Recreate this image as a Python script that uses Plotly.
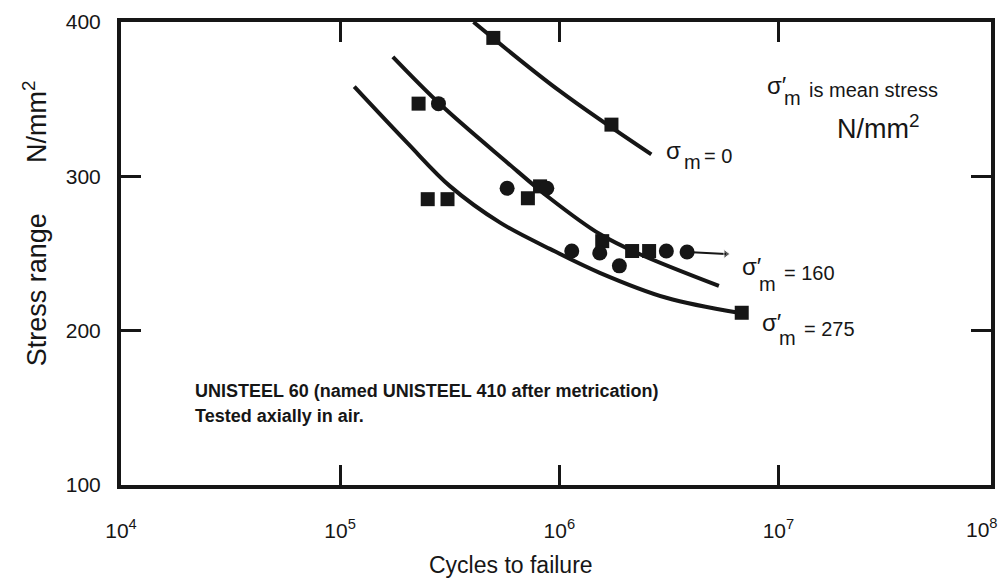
import plotly.graph_objects as go

# S-N fatigue data, UNISTEEL 60, axial tests in air
# fitted curves for each mean stress (cycles, stress range N/mm^2)
curve0_N = [4.06e5, 1.0e6, 2.63e6]
curve0_S = [400, 355.5, 314.2]

curve160_N = [1.74e5, 2.87e5, 5.78e5, 9.06e5, 1.53e6, 2.32e6, 5.35e6]
curve160_S = [377.4, 346.5, 309.0, 285.8, 262.6, 249.7, 229.0]

curve275_N = [1.16e5, 2.03e5, 3.18e5, 5.37e5, 9.06e5, 1.53e6, 3.08e6, 6.59e6]
curve275_S = [358.1, 321.5, 293.5, 270.0, 253.0, 237.5, 221.3, 211.6]

# test results
square_N = [5.0e5, 1.73e6, 2.28e5, 2.51e5, 3.09e5, 7.19e5, 8.17e5,
            1.57e6, 2.15e6, 2.57e6, 6.8e6]
square_S = [389.7, 333.5, 347.1, 285.2, 285.2, 285.8, 293.5,
            258.0, 251.6, 251.6, 211.6]

circle_N = [2.81e5, 5.78e5, 8.77e5, 1.14e6, 1.53e6, 1.88e6, 3.08e6, 3.83e6]
circle_S = [347.1, 292.3, 292.3, 251.6, 250.3, 242.0, 251.6, 251.0]

# unbroken specimen (run-out)
runout_N = [3.83e6, 5.76e6]
runout_S = [251.0, 249.7]

x_tickvals = [1e4, 1e5, 1e6, 1e7]
x_ticktext = ["10<sup>4</sup>", "10<sup>5</sup>", "10<sup>6</sup>", "10<sup>7</sup>"]
y_tickvals = [100, 200, 300, 400]

INK = "#161616"
FONT = "Liberation Sans, Arial, sans-serif"

W, H = 1005, 580
ML, MR, MT, MB = 121, 10, 20, 95
PW, PH = W - ML - MR, H - MT - MB


def px(x):
    return (x - ML) / PW


def py(y):
    return (H - MB - y) / PH


fig = go.Figure()

for n, s in [(curve0_N, curve0_S), (curve160_N, curve160_S), (curve275_N, curve275_S)]:
    fig.add_trace(go.Scatter(x=n, y=s, mode="lines", line=dict(color=INK, width=4, shape="spline"),
                             hoverinfo="skip", showlegend=False))

fig.add_trace(go.Scatter(x=runout_N, y=runout_S, mode="lines+markers",
                         line=dict(color=INK, width=2),
                         marker=dict(symbol=["circle", "triangle-right"], size=[0, 8], color=INK),
                         showlegend=False))

fig.add_trace(go.Scatter(x=square_N, y=square_S, mode="markers",
                         marker=dict(symbol="square", size=14, color=INK, line=dict(width=0)),
                         showlegend=False))
fig.add_trace(go.Scatter(x=circle_N, y=circle_S, mode="markers",
                         marker=dict(symbol="circle", size=15, color=INK, line=dict(width=0)),
                         showlegend=False))

axis_common = dict(
    showline=True, linecolor=INK, linewidth=4, mirror="ticks",
    ticks="inside", ticklen=20, tickwidth=3, tickcolor=INK,
    showgrid=False, zeroline=False,
    tickfont=dict(family=FONT, size=21, color=INK),
)

fig.update_xaxes(type="log", range=[4.0, 7.97], tickvals=x_tickvals, ticktext=x_ticktext,
                 ticklabelstandoff=24, **axis_common)
fig.update_yaxes(range=[100, 400], tickvals=y_tickvals, ticklabelstandoff=12, **axis_common)

ann = []


def label(text, x, y, size, xanchor="left", angle=0):
    ann.append(dict(text=text, x=px(x), y=py(y), xref="paper", yref="paper",
                    xanchor=xanchor, yanchor="middle", showarrow=False, textangle=angle,
                    font=dict(family=FONT, size=size, color=INK)))


# 10^8 at the right end of the axis
label("10<sup>8</sup>", 986, 528, 21, xanchor="center")

# axis titles
label("Cycles to failure", 513, 565, 23, xanchor="center")
label("Stress range", 36, 289, 27, xanchor="center", angle=-90)
label("N/mm<sup>2</sup>", 34, 120, 27, xanchor="center", angle=-90)

# curve labels
label("σ", 666, 149, 24)
label("m", 685, 161, 20)
label("= 0", 705, 155, 20)

label("σ′", 743, 266, 24)
label("m", 760, 283, 20)
label("= 160", 785, 272, 20)

label("σ′", 763, 322, 24)
label("m", 780, 337, 20)
label("= 275", 805, 328, 20)

# key
label("σ′", 768, 84, 24)
label("m", 785, 96, 20)
label("is mean stress", 810, 88, 20)
label("N/mm<sup>2</sup>", 838, 125, 27)

# material note
label("<b>UNISTEEL 60 (named UNISTEEL 410 after metrication)</b>", 193, 391, 18)
label("<b>Tested axially in air.</b>", 193, 416, 18)

fig.update_layout(
    width=W, height=H,
    margin=dict(l=ML, r=MR, t=MT, b=MB),
    paper_bgcolor="white", plot_bgcolor="white",
    annotations=ann,
    font=dict(family=FONT, color=INK),
)

fig.write_html("out.html")
